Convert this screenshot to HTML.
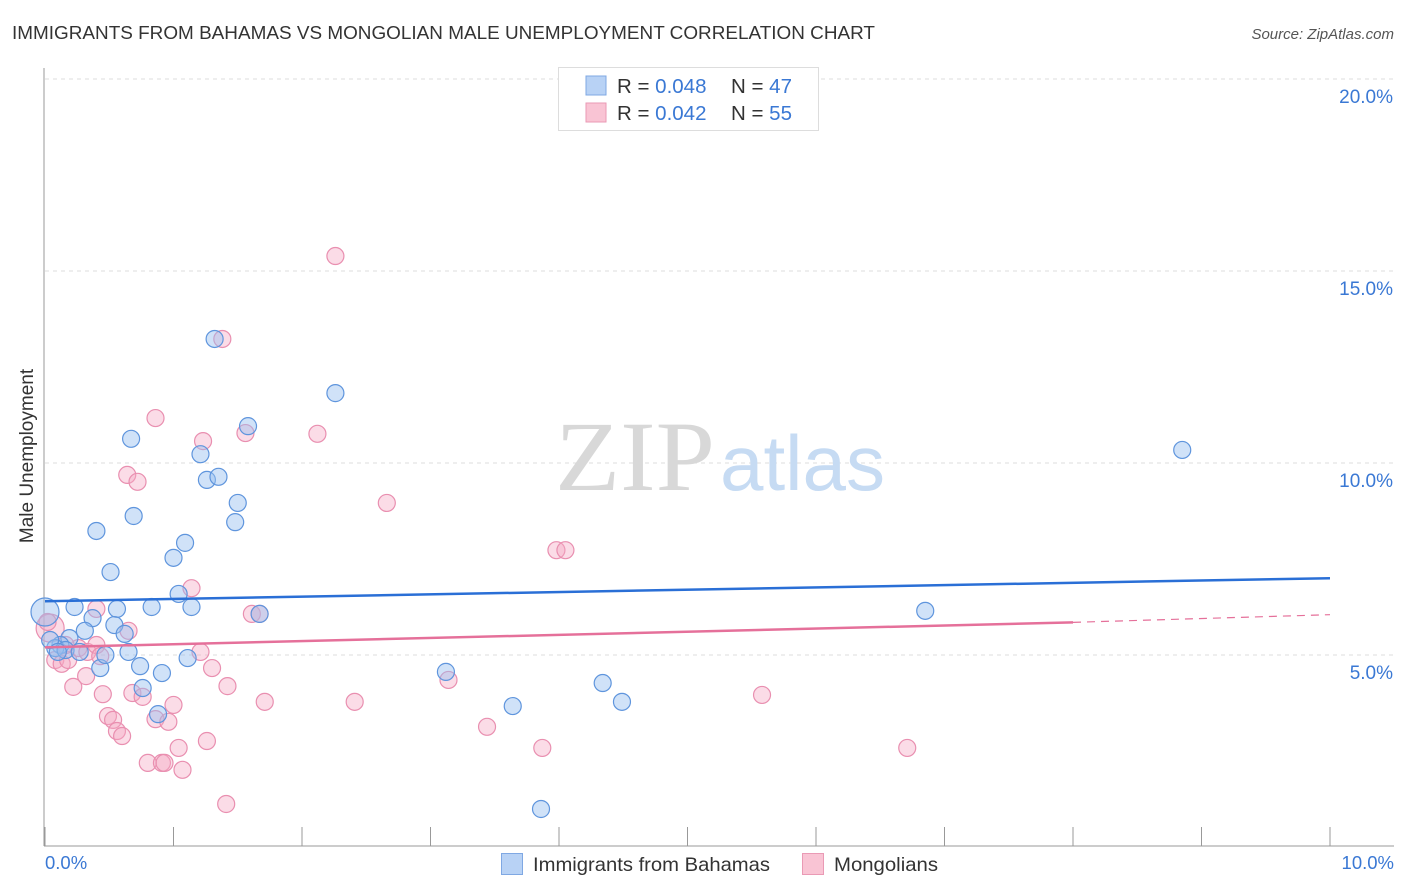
<!DOCTYPE html>
<html><head><meta charset="utf-8"><style>
body{margin:0;background:#fff;font-family:"Liberation Sans",sans-serif;}
svg{display:block}
</style></head><body>
<svg id="chart" width="1406" height="892" xmlns="http://www.w3.org/2000/svg">
<text x="12" y="39" font-size="18" fill="#333" textLength="863" lengthAdjust="spacingAndGlyphs">IMMIGRANTS FROM BAHAMAS VS MONGOLIAN MALE UNEMPLOYMENT CORRELATION CHART</text>
<text x="1394" y="39" font-size="15" fill="#555" font-style="italic" text-anchor="end">Source: ZipAtlas.com</text>
<g id="grid"></g>
<g>
<text x="555" y="490" font-size="100" fill="#d8d8d8" font-family="Liberation Serif,serif" textLength="160" lengthAdjust="spacingAndGlyphs">ZIP</text>
<text x="720" y="490" font-size="78" fill="#c6dbf3" textLength="165" lengthAdjust="spacingAndGlyphs">atlas</text>
</g>
<line x1="44" y1="68" x2="44" y2="846" stroke="#999"/>
<line x1="44" y1="846" x2="1394" y2="846" stroke="#999"/>
<g id="ticks"></g>
<g id="ylabels"></g>
<text x="45" y="869" font-size="18.5" fill="#3a78d4">0.0%</text>
<text x="1394" y="869" font-size="18.5" fill="#3a78d4" text-anchor="end">10.0%</text>
<text transform="translate(33,456) rotate(-90)" font-size="19" fill="#333" text-anchor="middle">Male Unemployment</text>
<g id="pts-pink"></g>
<g id="pts-blue"></g>
<g id="trends"></g>
<g>
<rect x="558.5" y="67.5" width="260" height="63" fill="#fff" stroke="#ddd"/>
<rect x="586" y="76" width="20" height="19" fill="#b8d2f5" stroke="#7fa8e3"/>
<rect x="586" y="103" width="20" height="19" fill="#f9c4d4" stroke="#ea9ab5"/>
<text x="617" y="93" font-size="20.5" fill="#333">R = <tspan fill="#3a78d4">0.048</tspan><tspan x="731">N = </tspan><tspan fill="#3a78d4">47</tspan></text>
<text x="617" y="120" font-size="20.5" fill="#333">R = <tspan fill="#3a78d4">0.042</tspan><tspan x="731">N = </tspan><tspan fill="#3a78d4">55</tspan></text>
</g>
<g>
<rect x="501.5" y="853.5" width="21" height="21" fill="#b8d2f5" stroke="#7fa8e3"/>
<text x="533" y="871" font-size="19.5" fill="#333" textLength="237" lengthAdjust="spacingAndGlyphs">Immigrants from Bahamas</text>
<rect x="802.5" y="853.5" width="21" height="21" fill="#f9c4d4" stroke="#ea9ab5"/>
<text x="834" y="871" font-size="19.5" fill="#333" textLength="104" lengthAdjust="spacingAndGlyphs">Mongolians</text>
</g>
</svg>
<script>
const yTicks=[5,10,15,20];
const yTickLabels=["5.0%","10.0%","15.0%","20.0%"];
const blueX=[0.00,0.23,0.40,0.51,0.56,0.37,0.31,0.19,0.12,0.08,0.16,0.27,0.43,0.47,0.54,0.62,0.65,0.74,0.76,0.88,0.91,0.83,0.69,0.67,1.00,1.09,1.04,1.14,1.11,1.21,1.26,1.35,1.32,1.48,1.50,1.58,1.67,2.26,3.12,3.64,3.86,4.34,4.49,6.85,8.85,0.04,0.10];
const blueY=[6.12,6.25,8.23,7.16,6.20,5.96,5.63,5.44,5.26,5.18,5.13,5.08,4.66,5.00,5.78,5.55,5.08,4.71,4.14,3.46,4.53,6.25,8.62,10.63,7.53,7.92,6.59,6.25,4.92,10.23,9.56,9.64,13.23,8.46,8.96,10.96,6.07,11.82,4.56,3.67,0.99,4.27,3.78,6.15,10.34,5.39,5.08];
const pinkX=[0.04,0.02,0.08,0.13,0.18,0.22,0.26,0.32,0.33,0.40,0.40,0.43,0.45,0.49,0.53,0.56,0.60,0.65,0.64,0.72,0.68,0.76,0.80,0.86,0.86,0.91,0.96,0.93,1.00,1.04,1.07,1.14,1.21,1.23,1.26,1.30,1.38,1.41,1.42,1.56,1.61,1.67,1.71,2.12,2.26,2.41,2.66,3.14,3.44,3.87,3.98,4.05,5.58,6.71,0.16];
const pinkY=[5.70,5.86,4.87,4.77,4.87,4.17,5.18,4.45,5.08,6.20,5.26,4.97,3.98,3.41,3.31,3.02,2.89,5.63,9.69,9.51,4.01,3.91,2.19,3.33,11.17,2.19,3.26,2.19,3.70,2.58,2.01,6.74,5.08,10.57,2.76,4.66,13.23,1.12,4.19,10.78,6.07,6.07,3.78,10.76,15.39,3.78,8.96,4.35,3.13,2.58,7.73,7.73,3.96,2.58,5.26];
const blueTrend=[6.40,7.00];
const pinkTrend=[5.20,5.85,6.05];
const NS="http://www.w3.org/2000/svg";
const sx=v=>45+v*128.5, sy=v=>847-v*38.4;
function mk(t,a,p){const e=document.createElementNS(NS,t);for(const k in a)e.setAttribute(k,a[k]);p.appendChild(e);return e;}
const grid=document.getElementById('grid');
yTicks.forEach((t,i)=>{
 const l=mk('line',{x1:45,x2:1394,y1:sy(t),y2:sy(t),stroke:'#ddd','stroke-dasharray':'4,4'},grid);
 
 
 const tx=mk('text',{x:1393,y:sy(t)+24,'font-size':19,fill:'#3a78d4','text-anchor':'end'},document.getElementById('ylabels'));
 tx.textContent=yTickLabels[i];
 
 
});
for(let i=0;i<=10;i++){
 const l=mk('line',{x1:sx(i),x2:sx(i),y1:827,y2:846,stroke:'#999'},document.getElementById('ticks'));
 
 
}
function pts(xs,ys,g,fill,stroke,name){
 xs.forEach((x,i)=>{
  const r=(x<0.05&&i===0)?14:8.5;
  const c=mk('circle',{cx:sx(x),cy:sy(ys[i]),r:r,fill:fill,stroke:stroke,'stroke-width':1.2},g);
  
  
 });
}
pts(pinkX,pinkY,document.getElementById('pts-pink'),'rgba(245,168,194,0.4)','#e98fb0','mongolians-point');
pts(blueX,blueY,document.getElementById('pts-blue'),'rgba(150,190,240,0.45)','#5f95dd','bahamas-point');
const tr=document.getElementById('trends');
let l=mk('line',{x1:sx(0),y1:sy(blueTrend[0]),x2:sx(10),y2:sy(blueTrend[1]),stroke:'#2a6fd6','stroke-width':2.5},tr);


l=mk('line',{x1:sx(0),y1:sy(pinkTrend[0]),x2:sx(8),y2:sy(pinkTrend[1]),stroke:'#e5709a','stroke-width':2.5},tr);


l=mk('line',{x1:sx(8),y1:sy(pinkTrend[1]),x2:sx(10),y2:sy(pinkTrend[2]),stroke:'#e5709a','stroke-width':1.2,'stroke-dasharray':'8,6'},tr);


</script>
</body></html>
